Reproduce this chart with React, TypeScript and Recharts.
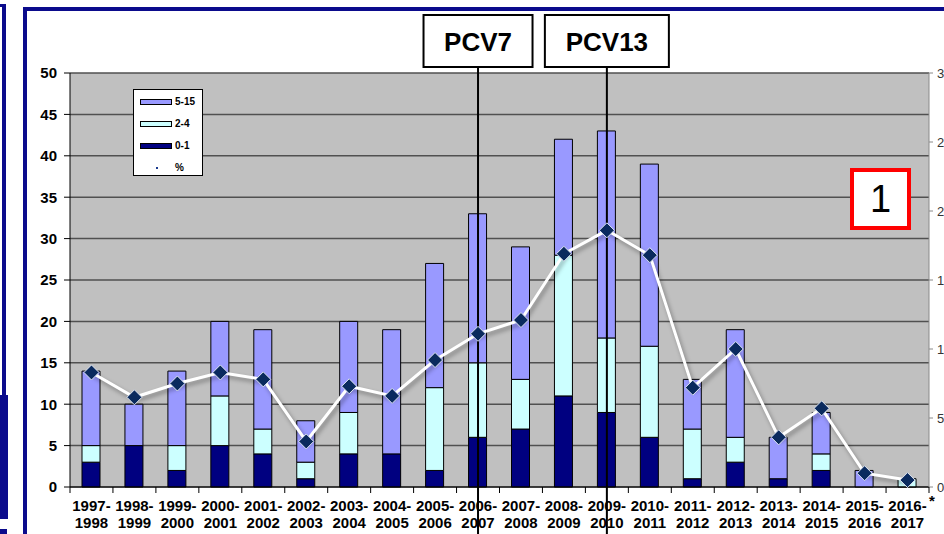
import React from 'react';
import {
  ComposedChart,
  Bar,
  Line,
  XAxis,
  YAxis,
  CartesianGrid,
  ReferenceLine,
  Legend,
} from 'recharts';

// ---- data ----
const categories = [
  '1997-1998', '1998-1999', '1999-2000', '2000-2001', '2001-2002',
  '2002-2003', '2003-2004', '2004-2005', '2005-2006', '2006-2007',
  '2007-2008', '2008-2009', '2009-2010', '2010-2011', '2011-2012',
  '2012-2013', '2013-2014', '2014-2015', '2015-2016', '2016-2017',
];
const age01 = [3, 5, 2, 5, 4, 1, 4, 4, 2, 6, 7, 11, 9, 6, 1, 3, 1, 2, 0, 0];
const age24 = [2, 0, 3, 6, 3, 2, 5, 0, 10, 9, 6, 17, 9, 11, 6, 3, 0, 2, 0, 1];
const age515 = [9, 5, 9, 9, 12, 5, 11, 15, 15, 18, 16, 14, 25, 22, 6, 13, 5, 5, 2, 0];
const pct = [8.3, 6.5, 7.5, 8.3, 7.8, 3.3, 7.3, 6.6, 9.2, 11.1, 12.1, 16.9, 18.6, 16.8, 7.2, 10.0, 3.6, 5.7, 1.0, 0.5];

const leftTicks = [0, 5, 10, 15, 20, 25, 30, 35, 40, 45, 50];
const rightTicks = [0, 5, 10, 15, 20, 25, 30];

const vaccineLabels = ['PCV7', 'PCV13'];
const vaccineSeasons = ['2006-2007', '2009-2010'];

const legendNames = ['5-15', '2-4', '0-1', '%'];

const data = categories.map((cat, i) => ({
  cat,
  a01: age01[i],
  a24: age24[i],
  a515: age515[i],
  pct: pct[i],
}));

// ---- styles ----
const FONT = '"Liberation Sans", Arial, Helvetica, sans-serif';
const C515 = '#9999ff';
const C24 = '#ccffff';
const C01 = '#000080';
const FRAME = '#0b0b8c';
const boxWidths: Record<string, number> = { PCV7: 109, PCV13: 124 };

const XTick = (props: any) => {
  const { x, y, payload, index } = props;
  const off = payload && typeof payload.offset === 'number' && payload.offset > 0 ? payload.offset : 21.5;
  const parts = String(payload.value).split('-');
  const last = index === categories.length - 1;
  return (
    <g>
      <line x1={x - off} y1={y} x2={x - off} y2={y + 6} stroke="#000" strokeWidth={1} />
      {last && <line x1={x + off} y1={y} x2={x + off} y2={y + 6} stroke="#000" strokeWidth={1} />}
      <text x={x} y={y + 24} textAnchor="middle" fontFamily={FONT} fontWeight="bold" fontSize={15} fill="#000">
        {parts[0]}-
      </text>
      <text x={x} y={y + 41} textAnchor="middle" fontFamily={FONT} fontWeight="bold" fontSize={15} fill="#000">
        {parts[1]}
      </text>
      {last && (
        <text x={x + off + 3} y={y + 19} textAnchor="middle" fontFamily={FONT} fontWeight="bold" fontSize={15} fill="#000">
          *
        </text>
      )}
    </g>
  );
};

const Diamond = (props: any) => {
  const { cx, cy } = props;
  if (cx == null || cy == null) return null;
  const r = 7.5;
  return (
    <polygon
      points={`${cx},${cy - r} ${cx + r},${cy} ${cx},${cy + r} ${cx - r},${cy}`}
      fill="#0a2a5e"
      stroke="#dfe6f2"
      strokeWidth={1}
    />
  );
};

const VLine = (props: any) => {
  const { x1, y1, y2 } = props;
  const top = Math.min(y1, y2);
  const bottom = Math.max(y1, y2);
  return <line x1={x1} y1={top - 6} x2={x1} y2={bottom + 60} stroke="#000" strokeWidth={2} />;
};

const makeBoxLabel = (text: string) => (props: any) => {
  const vb = props.viewBox || {};
  const cx = vb.x;
  const top = vb.y;
  const w = boxWidths[text] || 110;
  return (
    <g>
      <rect x={cx - w / 2} y={top - 58} width={w} height={52} fill="#fff" stroke="#000" strokeWidth={2} />
      <text x={cx} y={top - 22} textAnchor="middle" fontFamily={FONT} fontWeight="bold" fontSize={26} fill="#000">
        {text}
      </text>
    </g>
  );
};

const LegendBox = () => {
  const colors: Record<string, string> = { '5-15': C515, '2-4': C24, '0-1': C01 };
  return (
    <div
      style={{
        width: 70,
        height: 87,
        background: '#fff',
        border: '1px solid #000',
        boxSizing: 'border-box',
        fontFamily: FONT,
        fontWeight: 'bold',
        fontSize: 10,
        position: 'relative',
      }}
    >
      {legendNames.map((n, i) => (
        <div key={n} style={{ position: 'absolute', left: 6, top: 6 + i * 22, height: 12, display: 'flex', alignItems: 'center' }}>
          {n === '%' ? (
            <div style={{ width: 32, height: 6, position: 'relative' }}>
              <div style={{ position: 'absolute', left: 16, top: 2, width: 2, height: 2, background: '#1a3a8e' }} />
            </div>
          ) : (
            <div style={{ width: 32, height: 6, background: colors[n], border: '1px solid #000', boxSizing: 'border-box' }} />
          )}
          <span style={{ marginLeft: 3, lineHeight: '12px', color: '#000' }}>{n}</span>
        </div>
      ))}
    </div>
  );
};

export default function App() {
  return (
    <div
      style={{
        position: 'fixed',
        left: 0,
        top: 0,
        width: 944,
        height: 534,
        overflow: 'hidden',
        background: '#fff',
        fontFamily: FONT,
      }}
    >
      <style>{`.pct-line .recharts-line-curve { filter: drop-shadow(2px 3px 2px rgba(0,0,0,0.35)); }`}</style>

      {/* neighbouring slide fragments on the left */}
      <div style={{ position: 'absolute', left: 0, top: 4, width: 6, height: 3, background: FRAME }} />
      <div style={{ position: 'absolute', left: 2, top: 4, width: 4, height: 391, background: FRAME }} />
      <div style={{ position: 'absolute', left: 0, top: 395, width: 8, height: 124, background: FRAME }} />
      <div style={{ position: 'absolute', left: 0, top: 529, width: 7, height: 5, background: FRAME }} />

      {/* main frame */}
      <div
        style={{
          position: 'absolute',
          left: 23,
          top: 7,
          width: 1000,
          height: 700,
          border: `4px solid ${FRAME}`,
          boxSizing: 'border-box',
        }}
      />

      <div style={{ position: 'absolute', left: 0, top: 0 }}>
        <ComposedChart
          width={944}
          height={534}
          data={data}
          margin={{ top: 73, right: 0, bottom: 0, left: 0 }}
          barCategoryGap={0}
        >
          <CartesianGrid
            vertical={false}
            fill="#c0c0c0"
            fillOpacity={1}
            stroke="#505050"
            strokeWidth={1.5}
            yAxisId="left"
          />
          <XAxis
            dataKey="cat"
            height={47}
            interval={0}
            tickLine={false}
            tickSize={0}
            tickMargin={0}
            axisLine={{ stroke: '#000', strokeWidth: 1 }}
            tick={<XTick />}
          />
          <YAxis
            yAxisId="left"
            width={70}
            domain={[0, 50]}
            ticks={leftTicks}
            interval={0}
            tickSize={6}
            tickMargin={7}
            axisLine={{ stroke: '#000', strokeWidth: 1 }}
            tickLine={{ stroke: '#000' }}
            tick={{ fill: '#000', fontSize: 15, fontWeight: 'bold', fontFamily: FONT }}
          />
          <YAxis
            yAxisId="right"
            orientation="right"
            width={15}
            domain={[0, 30]}
            ticks={rightTicks}
            interval={0}
            tickSize={4}
            tickMargin={4}
            axisLine={{ stroke: '#8a8a8a', strokeWidth: 1 }}
            tickLine={{ stroke: '#8a8a8a' }}
            tick={{ fill: '#333', fontSize: 13, fontFamily: FONT, textAnchor: 'start' }}
          />
          <Legend
            layout="vertical"
            align="center"
            verticalAlign="middle"
            wrapperStyle={{ position: 'absolute', left: 133, top: 89, width: 70, height: 87 }}
            content={<LegendBox />}
          />
          <Bar yAxisId="left" dataKey="a01" name="0-1" stackId="s" barSize={18} fill={C01} stroke="#000" strokeWidth={1} isAnimationActive={false} />
          <Bar yAxisId="left" dataKey="a24" name="2-4" stackId="s" barSize={18} fill={C24} stroke="#000" strokeWidth={1} isAnimationActive={false} />
          <Bar yAxisId="left" dataKey="a515" name="5-15" stackId="s" barSize={18} fill={C515} stroke="#000" strokeWidth={1} isAnimationActive={false} />
          {vaccineSeasons.map((s, i) => (
            <ReferenceLine
              key={s}
              yAxisId="left"
              x={s}
              stroke="#000"
              strokeWidth={2}
              shape={VLine}
              label={makeBoxLabel(vaccineLabels[i])}
            />
          ))}
          <Line
            className="pct-line"
            yAxisId="right"
            type="linear"
            dataKey="pct"
            name="%"
            stroke="#ffffff"
            strokeWidth={3}
            dot={<Diamond />}
            activeDot={false}
            isAnimationActive={false}
          />
        </ComposedChart>
      </div>

      {/* red annotation box */}
      <div
        style={{
          position: 'absolute',
          left: 850,
          top: 168,
          width: 61,
          height: 62,
          border: '4px solid #ff0000',
          boxSizing: 'border-box',
          background: '#fff',
          display: 'flex',
          alignItems: 'center',
          justifyContent: 'center',
          fontFamily: FONT,
          fontSize: 38,
          lineHeight: '38px',
          color: '#000',
        }}
      >
        1
      </div>
    </div>
  );
}
